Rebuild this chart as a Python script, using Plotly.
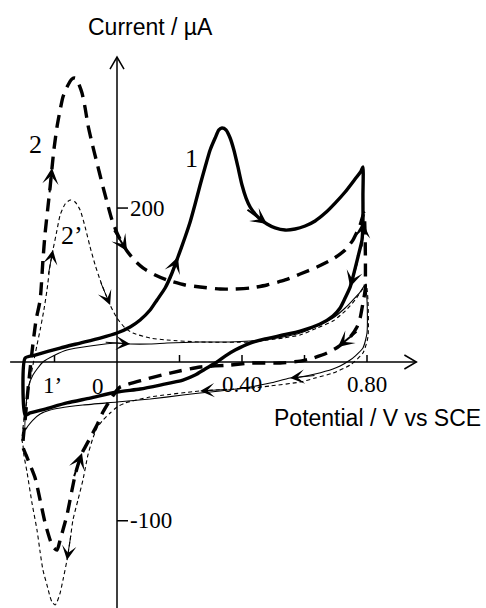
import math
import plotly.graph_objects as go

# ---------------- data (potential in V vs SCE, current in µA) ----------------
# Curve 1 : thick solid
V1 = [-0.294, -0.294, -0.262, -0.182, -0.118, -0.054, 0.0, 0.042, 0.074, 0.106,
      0.128, 0.154, 0.176, 0.195, 0.218, 0.234, 0.250, 0.266, 0.282, 0.298,
      0.314, 0.326, 0.336, 0.349, 0.362, 0.374, 0.387, 0.400, 0.413, 0.426,
      0.442, 0.458, 0.480, 0.506, 0.538, 0.570, 0.602, 0.634, 0.666, 0.698,
      0.730, 0.762, 0.781, 0.787,
      0.787, 0.787, 0.784, 0.771, 0.755, 0.746, 0.730, 0.714, 0.691, 0.650,
      0.586, 0.531, 0.474, 0.426, 0.378, 0.346, 0.320, 0.282, 0.250, 0.211,
      0.138, 0.074, 0.0, -0.086, -0.160, -0.230, -0.278, -0.294]
I1 = [1.4, 56.1, 59.0, 65.7, 70.5, 75.3, 80.1, 85.9, 92.6, 102.2,
      111.8, 123.3, 137.7, 153.0, 172.2, 186.6, 203.9, 222.1, 239.4, 255.7,
      267.2, 274.9, 276.8, 274.9, 267.2, 255.7, 239.4, 222.1, 209.6, 201.0,
      194.3, 189.5, 184.7, 180.9, 178.9, 179.9, 182.8, 187.6, 195.2, 204.8,
      215.4, 227.9, 235.5, 239.4,
      212.5, 186.6, 169.3, 153.0, 133.8, 124.2, 113.7, 104.1, 96.4, 88.7,
      82.0, 78.2, 74.4, 70.5, 63.8, 58.0, 52.3, 45.6, 39.8, 35.0,
      30.2, 26.4, 23.5, 17.7, 13.0, 7.2, 3.4, 1.4]

# Curve 1' : thin solid
V1p = [-0.294, -0.291, -0.285, -0.269, -0.237, -0.198, -0.160, -0.086, 0.0, 0.042,
       0.106, 0.160, 0.266, 0.362, 0.426, 0.490, 0.531, 0.586, 0.640, 0.691,
       0.730, 0.755, 0.778, 0.794,
       0.800, 0.800, 0.787, 0.762, 0.746, 0.714, 0.691, 0.634, 0.586, 0.554,
       0.490, 0.426, 0.330, 0.266, 0.211, 0.106, 0.0, -0.109, -0.182, -0.214,
       -0.246, -0.269, -0.285, -0.294]
I1p = [-13.0, 11.0, 27.3, 39.8, 52.3, 59.0, 63.8, 67.6, 70.5, 69.6,
       69.6, 70.5, 71.5, 71.5, 72.4, 74.4, 76.3, 80.1, 86.8, 94.5,
       104.1, 111.8, 119.4, 126.2,
       111.8, 80.1, 65.7, 58.0, 54.2, 48.5, 45.6, 40.8, 37.9, 36.9,
       32.1, 28.3, 24.5, 22.5, 20.6, 16.8, 13.9, 11.0, 8.2, 6.2,
       2.4, -3.4, -9.1, -13.0]

# Curve 2 : thick dashed
V2 = [-0.301, -0.294, -0.285, -0.272, -0.259, -0.246, -0.237, -0.230, -0.221, -0.214,
      -0.208, -0.202, -0.192, -0.182, -0.173, -0.160, -0.144, -0.134, -0.125, -0.112,
      -0.102, -0.093, -0.080, -0.064, -0.048, -0.032, -0.016, 0.0, 0.016, 0.032,
      0.058, 0.083, 0.122, 0.160, 0.218, 0.266, 0.330, 0.371, 0.426, 0.480,
      0.538, 0.586, 0.640, 0.691, 0.730, 0.755, 0.778, 0.790,
      0.794, 0.794, 0.787, 0.778, 0.768, 0.746, 0.707, 0.672, 0.627, 0.586,
      0.522, 0.426, 0.362, 0.266, 0.170, 0.083, 0.010, 0.0, -0.022, -0.045,
      -0.064, -0.086, -0.102, -0.112, -0.125, -0.134, -0.144, -0.160, -0.173, -0.182,
      -0.192, -0.205, -0.214, -0.230, -0.246, -0.262, -0.278, -0.291, -0.301]
I2 = [-29.3, -3.4, 25.4, 61.9, 92.6, 111.8, 150.1, 176.1, 201.0, 220.2,
      238.4, 255.7, 277.8, 294.1, 306.5, 316.1, 323.8, 324.8, 320.9, 310.4,
      296.0, 279.7, 262.4, 243.2, 224.0, 205.8, 188.5, 176.1, 166.5, 158.8,
      149.2, 142.5, 135.8, 131.0, 126.2, 124.2, 122.3, 122.3, 123.3, 126.2,
      131.0, 136.7, 143.4, 151.1, 159.7, 169.3, 183.7, 195.2,
      172.2, 121.4, 108.9, 94.5, 85.9, 76.3, 66.7, 60.9, 56.1, 53.2,
      51.3, 51.3, 49.4, 47.5, 41.7, 35.0, 28.3, 25.4, 15.8, 4.3,
      -8.2, -20.6, -29.3, -35.0, -46.5, -56.1, -70.5, -94.5, -108.9, -118.5,
      -128.1, -125.2, -118.5, -102.2, -80.1, -59.0, -46.5, -36.9, -29.3]

# Curve 2' : thin dashed
V2p = [-0.304, -0.298, -0.288, -0.278, -0.269, -0.256, -0.246, -0.234, -0.224, -0.214,
       -0.205, -0.192, -0.182, -0.166, -0.150, -0.134, -0.118, -0.102, -0.086, -0.070,
       -0.054, -0.038, -0.022, 0.0, 0.026, 0.051, 0.106, 0.160, 0.266, 0.426,
       0.531, 0.586, 0.640, 0.691, 0.730, 0.762, 0.784, 0.797,
       0.803, 0.803, 0.787, 0.746, 0.691, 0.634, 0.586, 0.490, 0.426, 0.266,
       0.106, 0.026, 0.0, -0.022, -0.045, -0.064, -0.077, -0.093, -0.109, -0.125,
       -0.141, -0.150, -0.160, -0.173, -0.182, -0.192, -0.198, -0.208, -0.214, -0.224,
       -0.237, -0.246, -0.256, -0.272, -0.288, -0.298, -0.301, -0.304]
I2p = [-22.5, -3.4, 15.8, 35.0, 49.4, 68.6, 83.0, 102.2, 121.4, 145.4,
       159.7, 178.9, 193.3, 203.9, 207.7, 205.8, 198.1, 181.8, 162.6, 145.4,
       131.0, 118.5, 107.0, 94.5, 84.9, 80.1, 75.3, 73.4, 71.5, 71.5,
       75.3, 78.2, 84.9, 91.6, 101.2, 111.8, 121.4, 127.1,
       111.8, 76.3, 60.9, 49.4, 41.7, 36.9, 33.1, 29.3, 27.3, 24.5,
       18.7, 13.0, 9.1, 3.4, -3.4, -11.0, -20.6, -36.9, -60.9, -80.1,
       -99.3, -118.5, -137.7, -156.9, -169.3, -178.0, -180.8, -178.0, -173.2, -161.7,
       -147.3, -130.0, -108.9, -83.0, -53.2, -36.9, -27.3, -22.5]

# direction arrows: (point index, +1 along the scan order / -1 against it)
ARROWS_1 = [(13, 1), (32, 1), (45, -1), (49, 1)]
ARROWS_1P = [(9, 1), (33, 1)]
ARROWS_2 = [(10, 1), (29, 1), (54, 1), (71, -1)]
ARROWS_2P = [(10, 1), (22, 1), (47, 1), (60, 1)]

AXIS_Y = 52.3          # current level at which the potential axis is drawn
X_TICKS = [-0.2, 0.2, 0.4, 0.6, 0.8]
X_TICK_TEXT = ["", "", "0.40", "", "0.80"]
Y_TICKS = [200, -100]
Y_TICK_TEXT = ["200", "-100"]

# ---------------- figure ----------------
W, H = 486, 608
X_RANGE = [-0.3744, 1.1808]
Y_RANGE = [-183.7, 399.6]
PX_PER_V = W / (X_RANGE[1] - X_RANGE[0])
PX_PER_UA = H / (Y_RANGE[1] - Y_RANGE[0])
SERIF = "Liberation Serif, Times New Roman, serif"
SANS = "Liberation Sans, Arial, sans-serif"

fig = go.Figure()

def add_curve(v, i, width, dash):
    fig.add_trace(go.Scatter(x=v, y=i, mode="lines",
                             line=dict(color="black", width=width, dash=dash,
                                       shape="spline", smoothing=0.6),
                             hoverinfo="skip", showlegend=False))

add_curve(V2p, I2p, 1.1, "4px,3px")
add_curve(V1p, I1p, 1.1, "solid")
add_curve(V2, I2, 3.4, "13px,8px")
add_curve(V1, I1, 3.4, "solid")

def add_arrows(v, i, arrows, lw, size):
    for idx, d in arrows:
        p = idx - d
        dx = (v[p] - v[idx]) * PX_PER_V
        dy = -(i[p] - i[idx]) * PX_PER_UA
        n = math.hypot(dx, dy) or 1.0
        L = 26.0
        fig.add_annotation(x=v[idx], y=i[idx], ax=dx / n * L, ay=dy / n * L,
                           xref="x", yref="y", text="", showarrow=True,
                           arrowhead=3, arrowsize=size, arrowwidth=lw,
                           arrowcolor="black", standoff=0)

add_arrows(V1, I1, ARROWS_1, 2.0, 1.35)
add_arrows(V1p, I1p, ARROWS_1P, 1.0, 2.4)
add_arrows(V2, I2, ARROWS_2, 2.0, 1.35)
add_arrows(V2p, I2p, ARROWS_2P, 1.0, 2.4)

# axes drawn by hand (potential axis crosses at AXIS_Y, current axis at 0 V)
shapes = []
shapes.append(dict(type="line", xref="x", yref="y", x0=-0.342, x1=0.958,
                   y0=AXIS_Y, y1=AXIS_Y, line=dict(color="black", width=1.5)))
shapes.append(dict(type="line", xref="x", yref="y", x0=0, x1=0,
                   y0=Y_RANGE[0], y1=344.9, line=dict(color="black", width=1.5)))
shapes.append(dict(type="path", xref="x", yref="y", xsizemode="pixel", ysizemode="pixel",
                   xanchor=0, yanchor=344.9, path="M-7,-12 L0,0 L7,-12",
                   line=dict(color="black", width=1.5)))
shapes.append(dict(type="path", xref="x", yref="y", xsizemode="pixel", ysizemode="pixel",
                   xanchor=0.958, yanchor=AXIS_Y, path="M-12,7 L0,0 L-12,-7",
                   line=dict(color="black", width=1.5)))
for xt in X_TICKS:
    shapes.append(dict(type="line", xref="x", yref="y", ysizemode="pixel",
                       yanchor=AXIS_Y, x0=xt, x1=xt, y0=0, y1=7,
                       line=dict(color="black", width=1.5)))
for yt in Y_TICKS:
    shapes.append(dict(type="line", xref="x", yref="y", xsizemode="pixel",
                       xanchor=0, x0=0, x1=11, y0=yt, y1=yt,
                       line=dict(color="black", width=1.5)))
fig.update_layout(shapes=shapes)

for xt, tt in zip(X_TICKS, X_TICK_TEXT):
    if tt:
        fig.add_annotation(x=xt, y=AXIS_Y, yshift=-22, text=tt, showarrow=False,
                           font=dict(family=SERIF, size=23, color="black"))
for yt, tt in zip(Y_TICKS, Y_TICK_TEXT):
    fig.add_annotation(x=0, y=yt, xshift=11, xanchor="left", text=tt, showarrow=False,
                       font=dict(family=SERIF, size=23, color="black"))

fig.add_annotation(x=0, y=AXIS_Y, xshift=-19, yshift=-24, text="0", showarrow=False,
                   font=dict(family=SERIF, size=23, color="black"))
labels = [("1’", -0.208, 29.3, 23), ("1", 0.237, 248.0, 26),
          ("2", -0.262, 260.5, 26), ("2’", -0.144, 174.1, 26)]
for t, lx, ly, fs in labels:
    fig.add_annotation(x=lx, y=ly, text=t, showarrow=False,
                       font=dict(family=SERIF, size=fs, color="black"))

fig.add_annotation(x=0.106, y=373.7, text="Current / µA", showarrow=False,
                   font=dict(family=SANS, size=23, color="black"))
fig.add_annotation(x=0.835, y=-1.4, text="Potential / V vs SCE", showarrow=False,
                   font=dict(family=SANS, size=23, color="black"))

fig.update_layout(
    width=W, height=H,
    margin=dict(l=0, r=0, t=0, b=0),
    paper_bgcolor="white", plot_bgcolor="white",
    xaxis=dict(range=X_RANGE, visible=False, fixedrange=True),
    yaxis=dict(range=Y_RANGE, visible=False, fixedrange=True),
    showlegend=False,
)

fig.write_html("out.html")
